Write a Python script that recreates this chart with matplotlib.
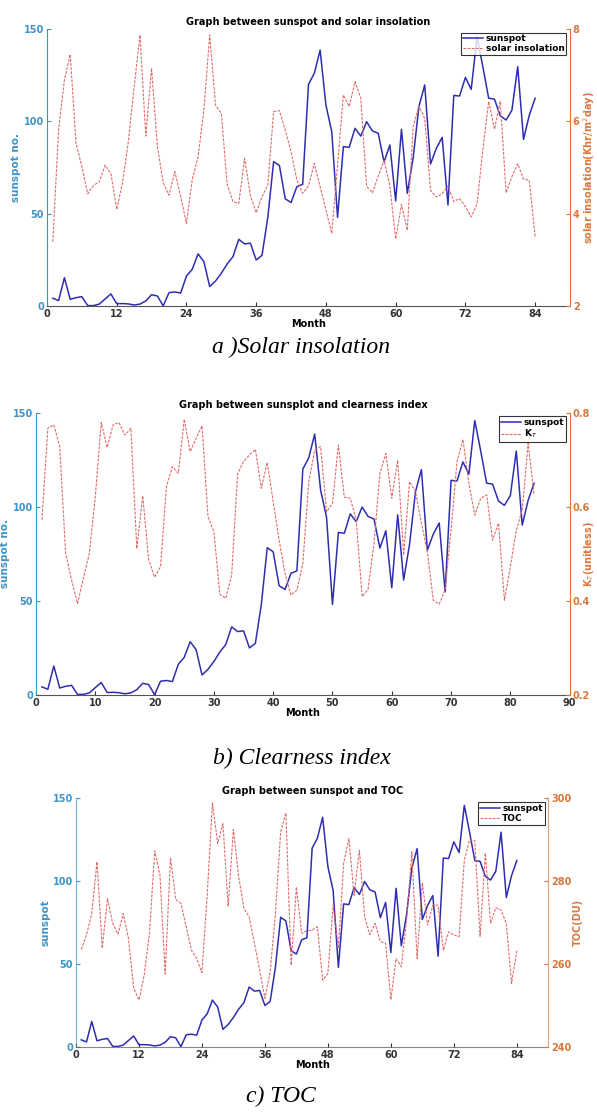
import numpy as np
import matplotlib
matplotlib.use('Agg')
import matplotlib.pyplot as plt

# monthly data
month = np.arange(1, 85)
sunspot = [4.2, 2.9, 15.3, 3.6, 4.5, 5.0, 0.2, 0.2, 1.0, 3.8, 6.5, 1.2,
           1.3, 1.1, 0.5, 1.0, 2.7, 6.1, 5.4, 0.0, 7.2, 7.6, 7.0, 16.2,
           19.9, 28.2, 24.0, 10.5, 13.5, 17.7, 22.7, 26.7, 36.1, 33.6, 34.0, 24.9,
           27.4, 48.0, 78.2, 76.0, 58.0, 56.0, 64.6, 65.9, 120.0, 126.0, 138.6, 108.8,
           94.4, 48.0, 86.3, 85.9, 96.2, 92.0, 99.8, 94.8, 93.5, 78.0, 87.2, 56.9,
           95.7, 61.0, 80.0, 108.0, 119.7, 76.9, 85.4, 91.3, 54.7, 114.0, 113.7, 123.8,
           117.3, 145.8, 129.6, 112.5, 112.0, 103.0, 100.7, 106.0, 129.6, 90.2, 103.4, 112.5]
insolation = [3.39, 5.81, 6.90, 7.45, 5.52, 5.02, 4.43, 4.61, 4.69, 5.05, 4.87, 4.09,
              4.67, 5.56, 6.75, 7.87, 5.68, 7.15, 5.45, 4.67, 4.40, 4.91, 4.37, 3.79,
              4.74, 5.23, 6.25, 7.87, 6.35, 6.17, 4.64, 4.26, 4.22, 5.20, 4.40, 4.02,
              4.37, 4.62, 6.21, 6.23, 5.81, 5.34, 4.73, 4.44, 4.60, 5.09, 4.58, 4.08,
              3.57, 5.05, 6.57, 6.32, 6.86, 6.50, 4.59, 4.45, 4.81, 5.16, 4.60, 3.45,
              4.20, 3.64, 5.88, 6.33, 6.06, 4.50, 4.36, 4.43, 4.60, 4.26, 4.33, 4.15,
              3.93, 4.21, 5.38, 6.43, 5.83, 6.43, 4.45, 4.80, 5.08, 4.75, 4.72, 3.49]
kt = [0.572, 0.767, 0.774, 0.728, 0.501, 0.444, 0.394, 0.448, 0.501, 0.621, 0.779, 0.726,
      0.774, 0.779, 0.752, 0.767, 0.511, 0.623, 0.487, 0.450, 0.472, 0.643, 0.685, 0.671,
      0.786, 0.717, 0.745, 0.772, 0.579, 0.547, 0.414, 0.405, 0.455, 0.670, 0.696, 0.710,
      0.722, 0.639, 0.694, 0.611, 0.529, 0.458, 0.412, 0.423, 0.479, 0.653, 0.720, 0.728,
      0.589, 0.607, 0.731, 0.620, 0.618, 0.572, 0.409, 0.424, 0.522, 0.671, 0.713, 0.618,
      0.699, 0.497, 0.653, 0.632, 0.565, 0.504, 0.401, 0.393, 0.423, 0.550, 0.696, 0.743,
      0.650, 0.582, 0.618, 0.625, 0.529, 0.565, 0.401, 0.472, 0.550, 0.593, 0.735, 0.625]
toc = [263.5, 267.0, 272.2, 284.7, 263.8, 275.8, 269.8, 267.2, 272.2, 266.2, 254.1, 251.3,
       257.3, 267.4, 287.3, 281.5, 257.6, 285.7, 275.6, 274.6, 269.0, 263.3, 261.3, 257.9,
       276.6, 298.9, 289.1, 293.9, 274.0, 292.5, 281.1, 273.4, 271.4, 265.0, 258.5, 251.7,
       258.1, 272.2, 291.9, 296.5, 259.7, 278.6, 267.4, 268.0, 268.2, 269.0, 256.1, 257.7,
       274.2, 263.8, 284.3, 290.3, 276.6, 287.5, 271.4, 267.1, 269.8, 265.4, 265.0, 251.4,
       261.3, 259.3, 270.6, 287.1, 261.3, 279.6, 269.4, 274.2, 274.2, 263.3, 267.8, 267.0,
       266.6, 285.1, 290.0, 289.8, 266.7, 286.8, 269.8, 273.6, 273.0, 269.8, 255.3, 263.2]

BLUE_AX = '#3f93c6'
ORANGE_AX = '#d9783e'
SPOT = '#2e2eb0'
RED = '#e06a6a'
FS = 7

fig = plt.figure(figsize=(5.97, 11.15), dpi=100)


def panel(rect, y2, y2lim, y2ticks, xticks, title, ylab, y2lab, leg2, fade=1.0):
    ax = fig.add_axes(rect)
    ax2 = ax.twinx()
    l1, = ax.plot(month, sunspot, color=SPOT, lw=1.1, label='sunspot')
    l2, = ax2.plot(month, y2, color=RED, lw=0.8, ls=(0, (2.5, 1.2)), label=leg2)
    ax.set_xlim(0, 90)
    ax.set_ylim(0, 150)
    ax.set_yticks([0, 50, 100, 150])
    ax.set_xticks(xticks)
    ax2.set_ylim(*y2lim)
    ax2.set_yticks(y2ticks)
    for a in (ax, ax2):
        a.spines['top'].set_visible(False)
        a.tick_params(direction='in', length=3, labelsize=FS, width=0.8, pad=2)
        for t in a.get_xticklabels() + a.get_yticklabels():
            t.set_fontweight('bold')
    ax2.spines['left'].set_visible(False)
    ax2.spines['bottom'].set_visible(False)
    ax.spines['right'].set_visible(False)
    ax.spines['left'].set_color(BLUE_AX)
    ax.tick_params(axis='y', colors=BLUE_AX)
    ax.spines['bottom'].set_color('#555555')
    ax.tick_params(axis='x', colors='#333333')
    ax2.spines['right'].set_color(ORANGE_AX)
    ax2.tick_params(axis='y', colors=ORANGE_AX)
    for s in ('left', 'bottom'):
        ax.spines[s].set_alpha(fade)
    ax2.spines['right'].set_alpha(fade)
    ax.set_title(title, fontsize=FS, fontweight='bold', pad=3)
    ax.set_xlabel('Month', fontsize=FS, fontweight='bold', labelpad=0)
    ax.set_ylabel(ylab, fontsize=FS + 0.5, fontweight='bold', color=BLUE_AX, labelpad=2)
    ax2.set_ylabel(y2lab, fontsize=FS, fontweight='bold', color=ORANGE_AX, labelpad=1)
    leg = ax2.legend([l1, l2], ['sunspot', leg2], loc='upper right', fontsize=FS - 0.5,
                     frameon=True, fancybox=False, edgecolor='black', borderpad=0.2,
                     handlelength=2.2, handletextpad=0.3, labelspacing=0.1,
                     borderaxespad=0.4)
    leg.get_frame().set_linewidth(0.8)
    for t in leg.get_texts():
        t.set_fontweight('bold')
    return ax, ax2


panel([0.0787, 0.7256, 0.8761, 0.2484], insolation, (2, 8), [2, 4, 6, 8],
      [0, 12, 24, 36, 48, 60, 72, 84], 'Graph between sunspot and solar insolation',
      'sunspot no.', 'solar insolation(Khr/m$^2$day)', 'solar insolation')

axb, axb2 = panel([0.0603, 0.3769, 0.8939, 0.2530], kt, (0.2, 0.8), [0.2, 0.4, 0.6, 0.8],
                  [0, 10, 20, 30, 40, 50, 60, 70, 80, 90],
                  'Graph between sunsplot and clearness index',
                  'sunspot no.', 'K$_T$(unitless)', 'K$_T$')
axb2.yaxis.set_label_coords(1.024, 0.5)

panel([0.1273, 0.0612, 0.7911, 0.2227], toc, (240, 300), [240, 260, 280, 300],
      [0, 12, 24, 36, 48, 60, 72, 84], 'Graph between sunspot and TOC',
      'sunspot', 'TOC(DU)', 'TOC', fade=0.7)

cap = dict(fontsize=17, style='italic', family='Liberation Serif', ha='center', va='center')
fig.text(0.505, 1 - 347 / 1115, 'a )Solar insolation', **cap)
fig.text(0.505, 1 - 758 / 1115, 'b) Clearness index', **cap)
fig.text(0.47, 1 - 1096 / 1115, 'c) TOC', **cap)

fig.savefig('out.png', dpi=100)
